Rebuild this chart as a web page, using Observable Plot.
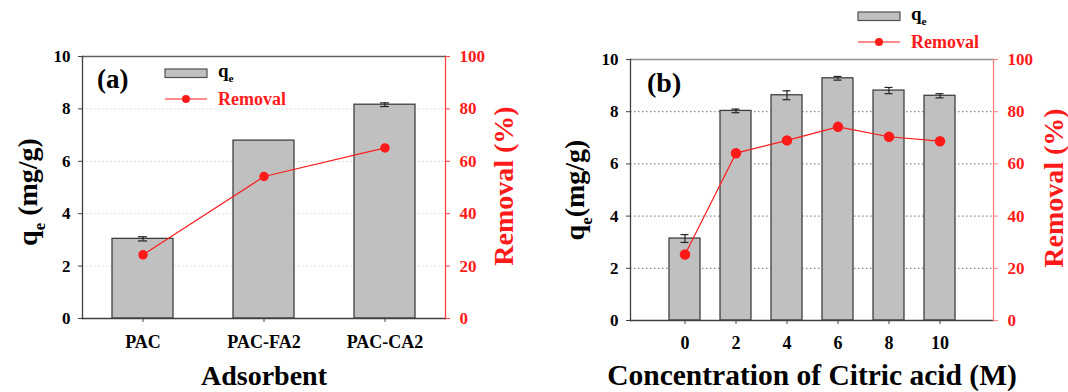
<!DOCTYPE html>
<html><head><meta charset="utf-8">
<script src="https://cdn.jsdelivr.net/npm/d3@7"></script>
<script src="https://cdn.jsdelivr.net/npm/@observablehq/plot@0.6"></script>
<style>
body{margin:0;background:#fff;}
#wrap{position:relative;width:1068px;height:392px;overflow:hidden;background:#fff;}
#wrap svg{position:absolute;top:0;overflow:visible;}
</style></head><body><div id="wrap"></div>
<script>
// ---- data: panel (a)
const adsorbents = ["PAC", "PAC-FA2", "PAC-CA2"];
const qeA = [3.04, 6.79, 8.16];
const qeErrA = [0.08, 0, 0.07];
const removalA = [24.3, 54.2, 65.1];
// ---- data: panel (b)
const concentrations = [0, 2, 4, 6, 8, 10];
const qeB = [3.14, 8.03, 8.63, 9.28, 8.81, 8.61];
const qeErrB = [0.15, 0.07, 0.17, 0.07, 0.12, 0.08];
const removalB = [25.3, 64.1, 69.0, 74.2, 70.4, 68.7];
// ---- ticks
const qeTicks = [0, 2, 4, 6, 8, 10];
const removalTicks = [0, 20, 40, 60, 80, 100];
const qeMax = 10, removalMax = 100;

const FONT = "Liberation Serif, DejaVu Serif, Times New Roman, serif";
const RED = "#ff1a1a";

function addText(svg, x, y, rotate, size, fill, parts, anchor = "middle") {
  const t = d3.select(svg).append("text")
    .attr("transform", `translate(${x},${y}) rotate(${rotate})`)
    .attr("text-anchor", anchor).style("font-family", FONT).attr("font-weight", "bold")
    .attr("font-size", size).attr("fill", fill);
  let shift = 0;
  for (const p of parts) {
    const ts = t.append("tspan").text(p.text);
    if (p.sub) { ts.attr("font-size", size * 0.6).attr("dy", size * 0.28 - shift); shift = size * 0.28; }
    else { ts.attr("dy", -shift); shift = 0; }
  }
}

function legend(svg, x, yRect, yLine, textX) {
  const g = d3.select(svg).append("g");
  g.append("rect").attr("x", x).attr("y", yRect).attr("width", 42).attr("height", 8.5)
    .attr("fill", "#c0c0c0").attr("stroke", "#505050").attr("stroke-width", 1.2);
  addText(svg, textX, yRect + 8, 0, 19, "#000", [{text: "q"}, {text: "e", sub: true}], "start");
  g.append("line").attr("x1", x).attr("x2", x + 42).attr("y1", yLine).attr("y2", yLine)
    .attr("stroke", RED).attr("stroke-width", 1.2);
  g.append("circle").attr("cx", x + 21).attr("cy", yLine).attr("r", 4).attr("fill", RED);
  addText(svg, textX, yLine + 6, 0, 18, RED, [{text: "Removal"}], "start");
}

function panel(o) {
  const data = o.cats.map((c, i) => ({cat: c, qe: o.qe[i], err: o.err[i], removal: o.removal[i]}));
  const errData = data.filter(d => d.err > 0);
  const toY = d => d.removal * qeMax / removalMax;
  const svg = Plot.plot({
    width: o.width, height: 392,
    marginLeft: o.ml, marginRight: o.mr, marginTop: o.mt, marginBottom: o.mb,
    style: {fontFamily: FONT, fontWeight: "bold", background: "transparent", color: "#000"},
    x: {type: "band", domain: o.cats, paddingInner: o.pi, paddingOuter: o.po, label: null},
    y: {domain: [0, qeMax], label: null},
    marks: [
      Plot.gridY(qeTicks.slice(1, -1), {stroke: o.grid, strokeOpacity: 1, strokeDasharray: "1.5,2.5", strokeWidth: 1}),
      Plot.barY(data, {x: "cat", y: "qe", fill: "#c0c0c0", stroke: "#404040", strokeWidth: 1.3}),
      Plot.ruleX(errData, {x: "cat", y1: d => d.qe - d.err, y2: d => d.qe + d.err, stroke: "#222", strokeWidth: 1.2}),
      Plot.tickY(errData, {x: "cat", y: d => d.qe + d.err, insetLeft: o.cap, insetRight: o.cap, stroke: "#222", strokeWidth: 1.2}),
      Plot.tickY(errData, {x: "cat", y: d => d.qe - d.err, insetLeft: o.cap, insetRight: o.cap, stroke: "#222", strokeWidth: 1.2}),
      Plot.line(data, {x: "cat", y: toY, stroke: RED, strokeWidth: 1.2}),
      Plot.dot(data, {x: "cat", y: toY, r: o.r, fill: RED, stroke: RED}),
      Plot.frame({anchor: "top", stroke: o.topColor, strokeWidth: 1.3}),
      Plot.frame({anchor: "left", stroke: "#404040", strokeWidth: 1.3}),
      Plot.frame({anchor: "bottom", stroke: "#404040", strokeWidth: 1.3}),
      Plot.frame({anchor: "right", stroke: o.rightColor, strokeWidth: 1.3}),
      Plot.axisY({anchor: "left", ticks: qeTicks, tickSize: 4, tickPadding: 8, fontSize: 17, label: null, stroke: "#404040"}),
      Plot.axisY({anchor: "right", ticks: removalTicks.map(v => v * qeMax / removalMax),
        tickFormat: d => Math.round(d * removalMax / qeMax), tickSize: 4, tickPadding: 10,
        fontSize: 17, label: null, fill: RED, stroke: o.rightColor}),
      Plot.axisX({anchor: "bottom", tickSize: 4, tickPadding: o.xpad, fontSize: o.xfs, label: null, stroke: "#404040"})
    ]
  });
  svg.style.left = o.left + "px";
  document.getElementById("wrap").appendChild(svg);
  return svg;
}

const svgA = panel({
  cats: adsorbents, qe: qeA, err: qeErrA, removal: removalA,
  left: 0, width: 540, ml: 82, mr: 95, mt: 56, mb: 74,
  pi: 0.5, po: 0.25, cap: 26, r: 4, grid: "#d4d4d4", topColor: "#606060", rightColor: "#ff4040", xpad: 13, xfs: 18
});
addText(svgA, 37, 192, -90, 28, "#000", [{text: "q"}, {text: "e", sub: true}, {text: " (mg/g)"}]);
addText(svgA, 513, 186, -90, 28, RED, [{text: "Removal (%)"}]);
addText(svgA, 264, 385, 0, 28, "#000", [{text: "Adsorbent"}]);
addText(svgA, 97, 88, 0, 27, "#000", [{text: "(a)"}], "start");
legend(svgA, 165, 69, 99, 218);

const svgB = panel({
  cats: concentrations, qe: qeB, err: qeErrB, removal: removalB,
  left: 540, width: 528, ml: 90, mr: 75, mt: 59, mb: 72,
  pi: 0.4, po: 0.71, cap: 11.5, r: 4.5, grid: "#707070", topColor: "#909090", rightColor: "#ff8080", xpad: 12, xfs: 18
});
addText(svgB, 44, 190, -90, 28, "#000", [{text: "q"}, {text: "e", sub: true}, {text: "(mg/g)"}]);
addText(svgB, 523, 188, -90, 28, RED, [{text: "Removal (%)"}]);
addText(svgB, 272, 385, 0, 29.5, "#000", [{text: "Concentration of Citric acid (M)"}]);
addText(svgB, 107, 92, 0, 28, "#000", [{text: "(b)"}], "start");
legend(svgB, 318, 12, 42, 371);
</script></body></html>
